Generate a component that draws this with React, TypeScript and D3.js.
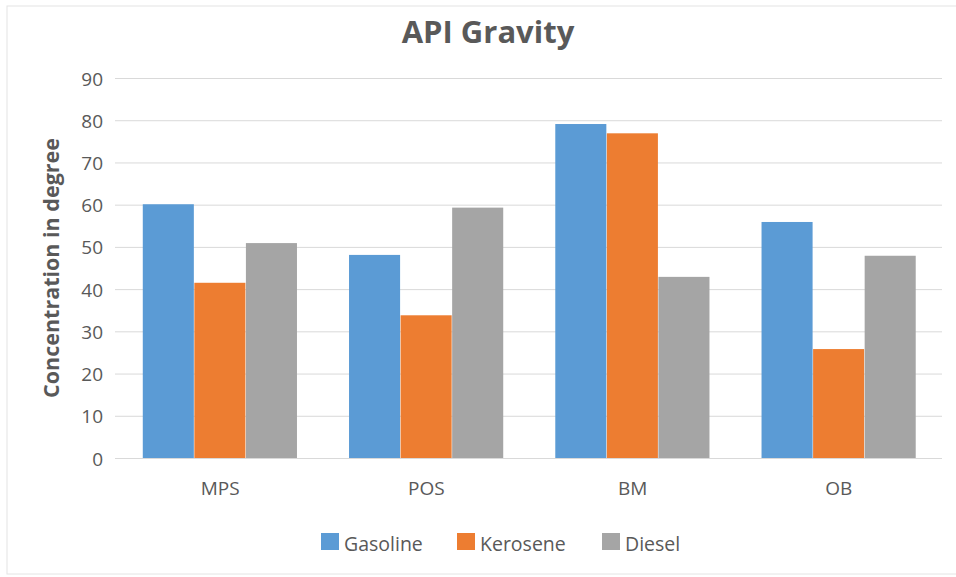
import React from "react";
import * as d3 from "d3";

const categories = ["MPS", "POS", "BM", "OB"];
const seriesNames = ["Gasoline", "Kerosene", "Diesel"];
const gasoline = [60.1, 48.1, 79.1, 55.9];
const kerosene = [41.5, 33.8, 76.9, 25.8];
const diesel = [50.9, 59.3, 42.9, 47.9];
const yTicks = [0, 10, 20, 30, 40, 50, 60, 70, 80, 90];
const colors = ["#5B9BD5", "#ED7D31", "#A5A5A5"];

const W = 956;
const H = 577;
const FONT = "'Open Sans', 'Segoe UI', sans-serif";

export default function App() {
  const series = [gasoline, kerosene, diesel];
  const left = 117;
  const right = 942;
  const top = 78;
  const bottom = 458;

  const x0 = d3.scaleBand<string>().domain(categories).range([left, right]).paddingInner(0.25).paddingOuter(0.125);
  const x1 = d3.scaleBand<string>().domain(seriesNames).range([0, x0.bandwidth()]).padding(0);
  const y = d3.scaleLinear().domain([0, 90]).range([bottom, top]);

  const legendX = [321, 457, 602];

  return (
    <svg width={W} height={H} style={{ position: "absolute", left: 0, top: 0, background: "#fff" }}>
      <rect x={7} y={6} width={W} height={568} fill="#fff" stroke="#E4E4E4" strokeWidth={1} />
      <text x={488} y={43} textAnchor="middle" fontFamily={FONT} fontWeight="bold" fontSize={31} fill="#595959">
        API Gravity
      </text>
      {yTicks.map((t) => (
        <g key={t}>
          <line x1={115} x2={right} y1={y(t) + 0.5} y2={y(t) + 0.5} stroke="#D9D9D9" strokeWidth={1} />
          <text x={103} y={y(t) + 7.5} textAnchor="end" fontFamily={FONT} fontSize={19} fill="#595959">
            {t}
          </text>
        </g>
      ))}
      <text
        transform={`translate(59,268) rotate(-90)`}
        textAnchor="middle"
        fontFamily={FONT}
        fontWeight="bold"
        fontSize={21.5}
        fill="#595959"
      >
        Concentration in degree
      </text>
      {categories.map((c, i) => (
        <g key={c}>
          {seriesNames.map((s, j) => (
            <rect
              key={s}
              x={(x0(c) as number) + (x1(s) as number)}
              y={y(series[j][i])}
              width={x1.bandwidth() - 0.5}
              height={bottom - y(series[j][i])}
              fill={colors[j]}
            />
          ))}
          <text
            x={(x0(c) as number) + x0.bandwidth() / 2}
            y={495}
            textAnchor="middle"
            fontFamily={FONT}
            fontSize={19}
            fill="#595959"
          >
            {c}
          </text>
        </g>
      ))}
      {seriesNames.map((s, j) => (
        <g key={s}>
          <rect x={legendX[j]} y={533} width={18} height={17} fill={colors[j]} />
          <text x={legendX[j] + 23} y={551} fontFamily={FONT} fontSize={19.5} fill="#595959">
            {s}
          </text>
        </g>
      ))}
    </svg>
  );
}
